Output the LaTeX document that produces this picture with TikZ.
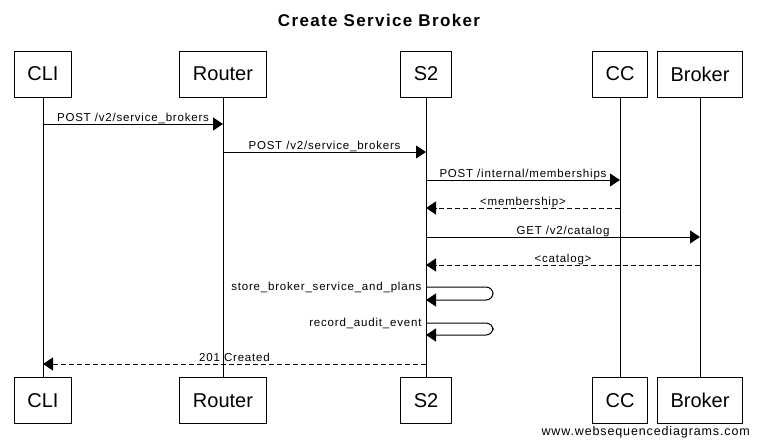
\documentclass[tikz,border=0pt]{standalone}
\usepackage{fontspec}
\setmainfont{Liberation Sans}
\newfontfamily\lblfont[LetterSpace=7]{Liberation Sans}
\newfontfamily\titlefont[LetterSpace=8]{Liberation Sans}
\usepackage{tikz}
\usetikzlibrary{arrows.meta}

\tikzset{
  box/.style={draw, line width=1pt, minimum height=46pt, inner xsep=13pt,
    font=\fontsize{20}{24}\selectfont},
  msg/.style={line width=1pt, -{Triangle[length=10pt,width=13pt]}},
  reply/.style={msg, dash pattern=on 5pt off 3pt},
  lbl/.style={anchor=base, yshift=3pt, inner sep=0pt, font=\lblfont\fontsize{11.5}{13}\selectfont},
  selflbl/.style={anchor=base east, xshift=-4pt, yshift=-3.5pt, inner sep=0pt,
    font=\lblfont\fontsize{11.5}{13}\selectfont}
}

\begin{document}
\begin{tikzpicture}[x=1pt, y=-1pt]
\useasboundingbox (0,0) rectangle (758,447);
\node[font=\titlefont\bfseries\fontsize{17}{20}\selectfont] (title) at (379,20) {Create Service Broker};
% participants and lifelines
\foreach \name/\x/\txt in {cli/43/CLI, router/223/Router, s2/426/S2, cc/620/CC, broker/700/Broker} {
  \node[box] (\name Top) at (\x,74) {\txt};
  \node[box] (\name Bot) at (\x,400.5) {\txt};
  \draw[line width=1pt] (\name Top) -- (\name Bot);
}
% messages
\draw[msg] (cliTop |- 0,124) -- node[lbl] {POST /v2/service\_brokers} (routerTop |- 0,124);
\draw[msg] (routerTop |- 0,152) -- node[lbl] {POST /v2/service\_brokers} (s2Top |- 0,152);
\draw[msg] (s2Top |- 0,180) -- node[lbl] {POST /internal/memberships} (ccTop |- 0,180);
\draw[reply] (ccTop |- 0,208) -- node[lbl] {<membership>} (s2Top |- 0,208);
\draw[msg] (s2Top |- 0,237) -- node[lbl] {GET /v2/catalog} (brokerTop |- 0,237);
\draw[reply] (brokerTop |- 0,265) -- node[lbl] {<catalog>} (s2Top |- 0,265);
% self calls
\draw[msg, rounded corners=7pt] (s2Top |- 0,287) node[selflbl] {store\_broker\_service\_and\_plans}
  -- (493,287) -- (493,300) -- (s2Top |- 0,300);
\draw[msg, rounded corners=7pt] (s2Top |- 0,323) node[selflbl] {record\_audit\_event}
  -- (493,323) -- (493,335) -- (s2Top |- 0,335);
\draw[reply] (s2Top |- 0,364) -- node[lbl] {201 Created} (cliTop |- 0,364);
\node[anchor=east, inner sep=0pt, font=\lblfont\fontsize{12.5}{15}\selectfont] (credit) at (750,432) {www.websequencediagrams.com};
\end{tikzpicture}
\end{document}
